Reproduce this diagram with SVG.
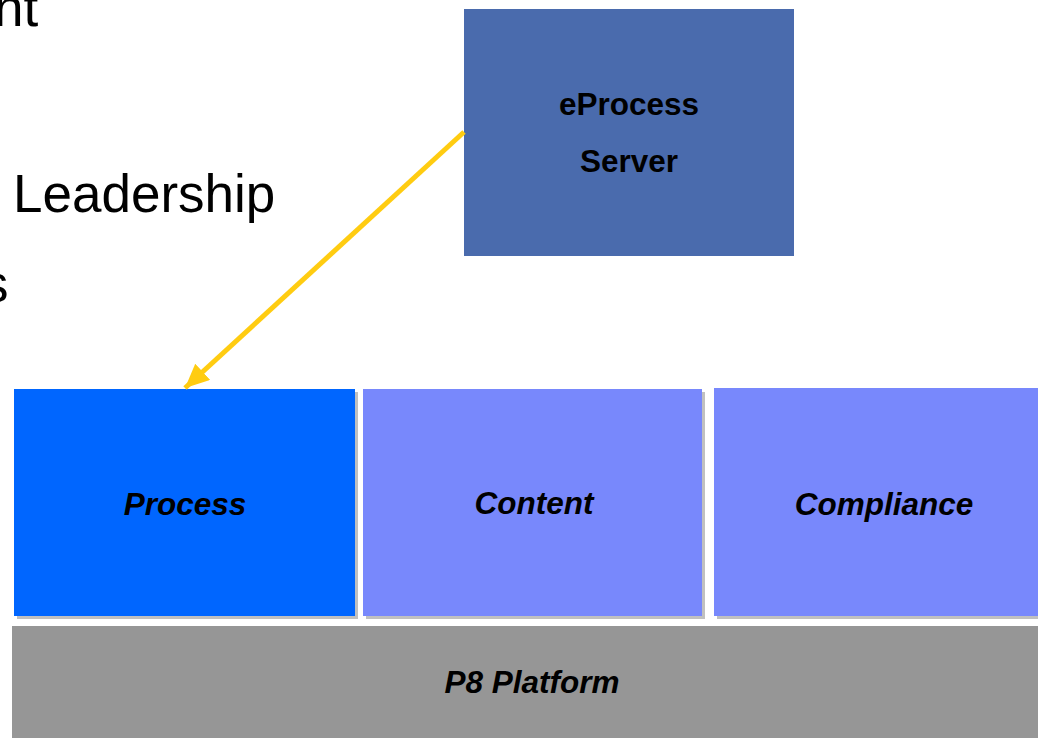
<svg xmlns="http://www.w3.org/2000/svg" width="1038" height="738" viewBox="0 0 1038 738">
<style>
.bg{font-family:"Liberation Sans",Arial,sans-serif;font-size:53px;fill:#000}
.lbl{font-family:"Liberation Sans",Arial,sans-serif;font-weight:bold;fill:#000;text-anchor:middle}
.it{font-style:italic;font-size:31.5px}
.shadow{fill:#C0C0C0}
.mod{fill:#7888FC}
</style>
<defs>
<marker id="ah" markerUnits="userSpaceOnUse" markerWidth="30" markerHeight="30" refX="24" refY="11" orient="auto">
<path d="M0,0 L24,11 L0,22 Z" fill="#FFCC11"/>
</marker>
</defs>
<rect width="1038" height="738" fill="#fff"/>
<text class="bg" x="-6" y="26">nt</text>
<text class="bg" x="13" y="212">Leadership</text>
<text class="bg" x="-18" y="302">s</text>
<g id="eprocess-server">
<rect x="464" y="9" width="330" height="247" fill="#4A6BAD"/>
<text class="lbl" x="629" y="115" font-size="31.5">eProcess</text>
<text class="lbl" x="629" y="172" font-size="31.5">Server</text>
</g>
<g id="process">
<rect class="shadow" x="17" y="392" width="341" height="227"/>
<rect x="14" y="389" width="341" height="227" fill="#0066FF"/>
<text class="lbl it" x="185" y="515">Process</text>
</g>
<g id="content">
<rect class="shadow" x="366" y="392" width="339" height="227"/>
<rect class="mod" x="363" y="389" width="339" height="227"/>
<text class="lbl it" x="534" y="514">Content</text>
</g>
<g id="compliance">
<rect class="shadow" x="717" y="391" width="330" height="228"/>
<rect class="mod" x="714" y="388" width="330" height="228"/>
<text class="lbl it" x="884" y="515">Compliance</text>
</g>
<g id="p8-platform">
<rect x="12" y="626" width="1030" height="120" fill="#969696"/>
<text class="lbl it" x="532" y="693" font-size="30.5">P8 Platform</text>
</g>
<g id="connectors">
<line x1="464" y1="132" x2="185" y2="388" stroke="#FFCC11" stroke-width="5" marker-end="url(#ah)"/>
</g>
</svg>
